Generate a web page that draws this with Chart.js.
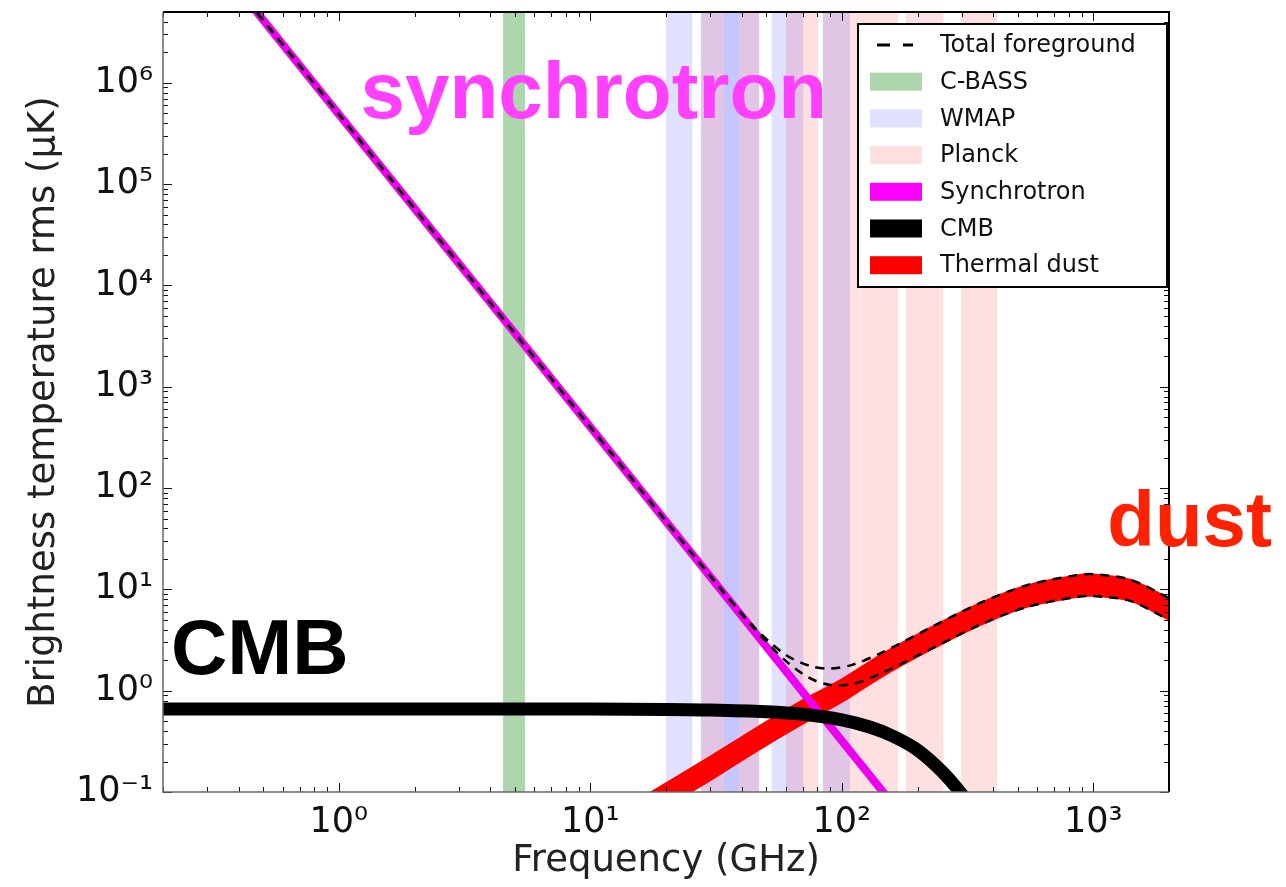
<!DOCTYPE html>
<html>
<head>
<meta charset="utf-8">
<script src="https://cdn.jsdelivr.net/npm/chart.js@4.4.1/dist/chart.umd.min.js"></script>
<style>
  html, body { margin: 0; padding: 0; background: #fff; }
</style>
</head>
<body>
<canvas id="fg_chart" width="1286" height="887"></canvas>
<script>
// values (GHz, uK)
const freqSync = [0.2, 1, 10, 100, 200];
const syncRms = [7.1e7, 4.9e5, 400, 0.32, 0.038];

const freqCmb = [0.2, 1, 10, 20, 30, 50, 70, 100, 130, 160, 200, 250, 300, 350];
const cmbRms = [0.66, 0.66, 0.658, 0.653, 0.645, 0.62, 0.585, 0.515, 0.435, 0.355, 0.26, 0.16, 0.095, 0.055];

const freqDust = [15, 21, 30, 45, 70, 100, 143, 217, 353, 545, 857, 1000, 1400, 2000];
const dustLow = [0.046, 0.076, 0.13, 0.245, 0.47, 0.77, 1.35, 2.4, 4.4, 6.7, 8.4, 8.6, 7.7, 5.0];
const dustHigh = [0.08, 0.132, 0.225, 0.42, 0.81, 1.3, 2.27, 4.0, 7.3, 11.0, 13.8, 14.1, 12.5, 8.2];

const freqTotal = [0.3, 1, 3, 10, 20, 30, 45, 60, 75, 90, 110, 143, 217, 353, 545, 857, 1000, 1400, 2000];
const totalLow = [2.0e7, 4.9e5, 1.64e4, 400, 47, 13.5, 4.05, 1.96, 1.32, 1.14, 1.16, 1.48, 2.45, 4.46, 6.7, 8.4, 8.6, 7.7, 5.0];
const totalHigh = [2.0e7, 4.9e5, 1.64e4, 400, 47, 13.6, 4.2, 2.25, 1.75, 1.65, 1.8, 2.35, 4.0, 7.3, 11.0, 13.8, 14.1, 12.5, 8.2];

const cbassBands = [[4.5, 5.5]];
const wmapBands = [[20, 25.5], [27.5, 39], [34, 47], [52.5, 70.5], [84, 108]];
const planckBands = [[27.5, 34], [39, 47], [60, 80.5], [84, 118], [118, 168], [180, 254], [297, 415]];

const xRange = [0.2, 2000];
const yRange = [0.1, 5e6];
const xDecades = [0, 1, 2, 3];
const yDecades = [-1, 0, 1, 2, 3, 4, 5, 6];

const colCbass = 'rgba(0,128,0,0.32)';
const colWmap = 'rgba(0,0,255,0.12)';
const colPlanck = 'rgba(255,0,0,0.12)';
const colSync = '#ee00ee';
const colDust = '#ff0000';

const sup = { '-': '\u207B', '0': '\u2070', '1': '\u00B9', '2': '\u00B2', '3': '\u00B3', '4': '\u2074', '5': '\u2075', '6': '\u2076', '7': '\u2077', '8': '\u2078', '9': '\u2079' };

function pts(xs, ys) {
    return xs.map((x, i) => ({ x: x, y: ys[i] }));
}

function decadeLabel(v, list) {
    const e = Math.log10(v);
    const r = Math.round(e);
    if (Math.abs(e - r) > 1e-6 || list.indexOf(r) < 0) return '';
    return '10' + String(r).split('').map(c => sup[c]).join('');
}

function bandSet(b, color) {
    return {
        data: [{ x: b[0], y: yRange[1] }, { x: b[1], y: yRange[1] }],
        fill: 'start', backgroundColor: color, borderColor: 'transparent',
        borderWidth: 0, pointRadius: 0, tension: 0
    };
}

var datasets = [
    { label: 'Total foreground', data: pts(freqTotal, totalHigh), borderColor: '#000', borderWidth: 2.5, borderDash: [9, 7], pointRadius: 0, tension: 0.3, fill: false },
    { label: 'Total foreground', data: pts(freqTotal, totalLow), borderColor: '#000', borderWidth: 2.5, borderDash: [9, 7], pointRadius: 0, tension: 0.3, fill: false },
    { label: 'CMB', data: pts(freqCmb, cmbRms), borderColor: '#000', borderWidth: 13, pointRadius: 0, tension: 0.3, fill: false },
    { label: 'Synchrotron', data: pts(freqSync, syncRms), borderColor: colSync, borderWidth: 8, pointRadius: 0, tension: 0, fill: false },
    { label: 'Thermal dust', data: pts(freqDust, dustHigh), borderColor: colDust, backgroundColor: colDust, borderWidth: 1.5, pointRadius: 0, tension: 0.3, fill: '+1' },
    { label: 'Thermal dust', data: pts(freqDust, dustLow), borderColor: colDust, borderWidth: 1.5, pointRadius: 0, tension: 0.3, fill: false }
];
cbassBands.forEach(b => datasets.push(bandSet(b, colCbass)));
wmapBands.forEach(b => datasets.push(bandSet(b, colWmap)));
planckBands.forEach(b => datasets.push(bandSet(b, colPlanck)));

var legendItems = [
    { text: 'Total foreground', kind: 'dash', color: '#000' },
    { text: 'C-BASS', kind: 'patch', color: colCbass },
    { text: 'WMAP', kind: 'patch', color: colWmap },
    { text: 'Planck', kind: 'patch', color: colPlanck },
    { text: 'Synchrotron', kind: 'patch', color: '#ff00ff' },
    { text: 'CMB', kind: 'patch', color: '#000' },
    { text: 'Thermal dust', kind: 'patch', color: colDust }
];

// frame, inward ticks, big labels and the boxed legend
var decorPlugin = {
    id: 'decor',
    afterDatasetsDraw: function (chart) {
        const ctx = chart.ctx;
        const a = chart.chartArea;
        const xs = chart.scales.x, ys = chart.scales.y;
        ctx.save();

        // tick marks inside the axes
        ctx.strokeStyle = '#111';
        ctx.lineWidth = 1;
        for (let d = -1; d <= 3; d++) {
            for (let m = 1; m <= 9; m++) {
                const v = m * Math.pow(10, d);
                if (v < xRange[0] || v > xRange[1]) continue;
                const px = Math.round(xs.getPixelForValue(v)) + 0.5;
                const len = m === 1 ? 9 : 5;
                ctx.beginPath();
                ctx.moveTo(px, a.bottom); ctx.lineTo(px, a.bottom - len);
                ctx.moveTo(px, a.top); ctx.lineTo(px, a.top + len);
                ctx.stroke();
            }
        }
        for (let d = -1; d <= 6; d++) {
            for (let m = 1; m <= 9; m++) {
                const v = m * Math.pow(10, d);
                if (v < yRange[0] || v > yRange[1]) continue;
                const py = Math.round(ys.getPixelForValue(v)) + 0.5;
                const len = m === 1 ? 9 : 5;
                ctx.beginPath();
                ctx.moveTo(a.left, py); ctx.lineTo(a.left + len, py);
                ctx.moveTo(a.right, py); ctx.lineTo(a.right - len, py);
                ctx.stroke();
            }
        }

        // axes frame
        ctx.strokeStyle = '#000';
        ctx.lineWidth = 2;
        ctx.beginPath();
        ctx.moveTo(a.left, a.top); ctx.lineTo(a.right, a.top); ctx.lineTo(a.right, a.bottom);
        ctx.stroke();
        ctx.strokeStyle = '#666';
        ctx.lineWidth = 1.5;
        ctx.beginPath();
        ctx.moveTo(a.left, a.top); ctx.lineTo(a.left, a.bottom); ctx.lineTo(a.right, a.bottom);
        ctx.stroke();

        // legend
        const lx = a.right - 311, ly = a.top + 12, lw = 309, lh = 263;
        ctx.fillStyle = '#fff';
        ctx.fillRect(lx, ly, lw, lh);
        ctx.strokeStyle = '#000';
        ctx.lineWidth = 2;
        ctx.strokeRect(lx, ly, lw, lh);
        ctx.font = '24px "DejaVu Sans"';
        ctx.textBaseline = 'middle';
        ctx.textAlign = 'left';
        legendItems.forEach(function (it, i) {
            const cy = ly + 21 + i * 36.7;
            if (it.kind === 'dash') {
                ctx.strokeStyle = it.color;
                ctx.lineWidth = 3;
                ctx.setLineDash([13, 13]);
                ctx.beginPath();
                ctx.moveTo(lx + 19, cy); ctx.lineTo(lx + 55, cy);
                ctx.stroke();
                ctx.setLineDash([]);
            } else {
                ctx.fillStyle = it.color;
                ctx.fillRect(lx + 12, cy - 9, 52, 18);
            }
            ctx.fillStyle = '#111';
            ctx.fillText(it.text, lx + 82, cy + 1);
        });

        // big component names
        ctx.font = 'bold 80px "Liberation Sans", Arial, sans-serif';
        ctx.textBaseline = 'alphabetic';
        ctx.fillStyle = '#ff40ff';
        ctx.fillText('synchrotron', xs.getPixelForValue(1.22), ys.getPixelForValue(4.5e5));
        ctx.font = 'bold 78px "Liberation Sans", Arial, sans-serif';
        ctx.fillStyle = '#000';
        ctx.fillText('CMB', xs.getPixelForValue(0.215), ys.getPixelForValue(1.47));
        ctx.fillStyle = '#ff2200';
        ctx.fillText('dust', xs.getPixelForValue(1137), ys.getPixelForValue(27));
        ctx.restore();
    }
};

var fgCanvas = document.getElementById('fg_chart');
var config = {
    type: 'line',
    data: { datasets: datasets },
    options: {
        responsive: false,
        animation: false,
        devicePixelRatio: 1,
        layout: { padding: { top: 12, right: 117, left: 0, bottom: 0 } },
        plugins: { legend: { display: false }, tooltip: { enabled: false } },
        scales: {
            x: {
                type: 'logarithmic', min: xRange[0], max: xRange[1],
                grid: { display: false, drawTicks: false },
                border: { display: false },
                ticks: {
                    autoSkip: false, maxRotation: 0, padding: 10, color: '#111',
                    font: { family: 'DejaVu Sans', size: 35 },
                    callback: function (v) { return decadeLabel(v, xDecades); }
                },
                title: {
                    display: true, text: 'Frequency (GHz)', color: '#222',
                    font: { family: 'DejaVu Sans', size: 37 }, padding: { top: 0, bottom: 3 }
                },
                afterFit: function (s) { s.height = 95; s.paddingLeft = 0; s.paddingRight = 0; }
            },
            y: {
                type: 'logarithmic', min: yRange[0], max: yRange[1],
                grid: { display: false, drawTicks: false },
                border: { display: false },
                ticks: {
                    autoSkip: false, padding: 10, color: '#111',
                    font: { family: 'DejaVu Sans', size: 35 },
                    callback: function (v) { return decadeLabel(v, yDecades); }
                },
                title: {
                    display: true, text: 'Brightness temperature rms (\u03BCK)', color: '#222',
                    font: { family: 'DejaVu Sans', size: 37 }, padding: { top: 22, bottom: 0 }
                },
                afterFit: function (s) { s.width = 163; s.paddingTop = 0; s.paddingBottom = 0; }
            }
        }
    },
    plugins: [decorPlugin]
};
var fg_chart = new Chart(fgCanvas, config);
</script>
</body>
</html>
